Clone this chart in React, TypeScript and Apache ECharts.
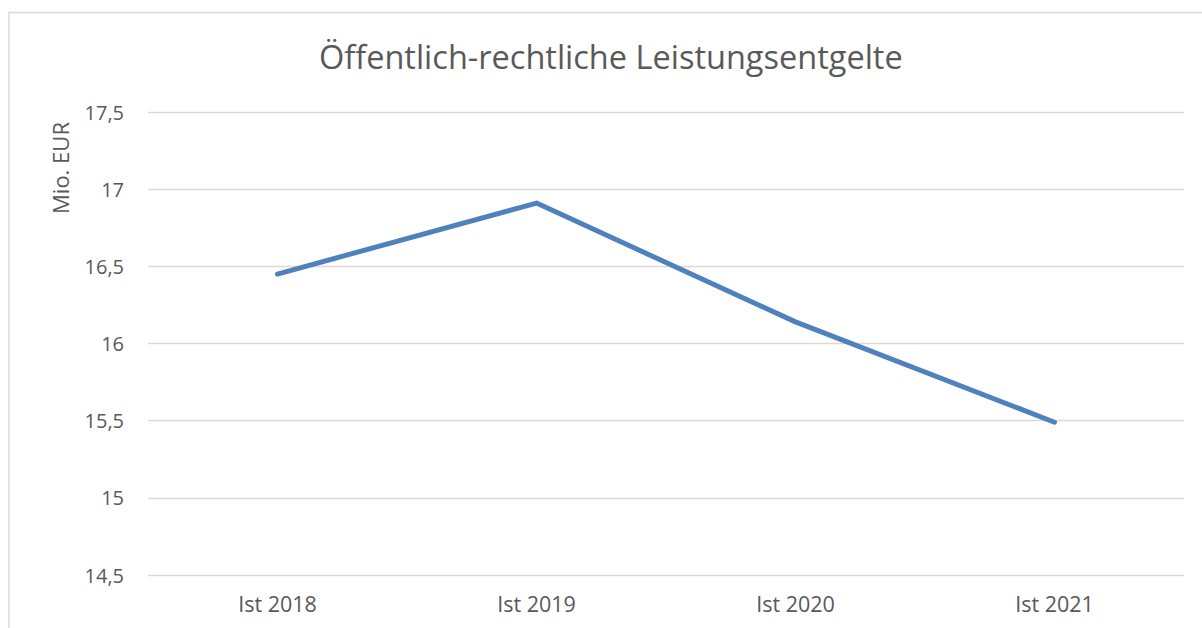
import React, { useEffect, useRef } from "react";
import * as echarts from "echarts";

const categories = ["Ist 2018", "Ist 2019", "Ist 2020", "Ist 2021"];
const values = [16.45, 16.91, 16.14, 15.49];
const titleText = "Öffentlich-rechtliche Leistungsentgelte";
const yAxisName = "Mio. EUR";

const FONT = "Open Sans";
const TXT = "#595959";

export default function App() {
  const ref = useRef<HTMLDivElement>(null);
  useEffect(() => {
    const chart = echarts.init(ref.current!, null, { renderer: "svg" });
    chart.setOption({
      animation: false,
      backgroundColor: "#ffffff",
      title: {
        text: titleText,
        left: 314,
        top: 35,
        textStyle: { fontFamily: FONT, fontSize: 32.5, fontWeight: "normal", color: TXT },
      },
      grid: { left: 148, right: 18, top: 112, bottom: 53 },
      xAxis: {
        type: "category",
        data: categories,
        boundaryGap: true,
        axisLine: { show: false },
        axisTick: { show: false },
        axisLabel: { fontFamily: FONT, fontSize: 21.5, color: TXT, margin: 17 },
      },
      yAxis: {
        type: "value",
        min: 14.5,
        max: 17.5,
        interval: 0.5,
        axisLine: { show: false },
        axisTick: { show: false },
        splitLine: { lineStyle: { color: "#d9d9d9", width: 1.3 } },
        axisLabel: {
          fontFamily: FONT,
          fontSize: 20,
          color: TXT,
          margin: 24,
          formatter: (v: number) => String(v).replace(".", ","),
        },
      },
      series: [
        {
          type: "line",
          data: values,
          symbol: "none",
          lineStyle: { color: "#4F81BD", width: 5, cap: "round", join: "round" },
        },
      ],
      graphic: [
        {
          type: "rect",
          shape: { x: 9, y: 12.5, width: 1200, height: 700 },
          style: { fill: "none", stroke: "#d9d9d9", lineWidth: 1.5 },
          silent: true,
        },
        {
          type: "text",
          x: 60,
          y: 168,
          rotation: Math.PI / 2,
          style: {
            text: yAxisName,
            font: "22px 'Open Sans'",
            fill: TXT,
            align: "center",
            verticalAlign: "middle",
          },
        },
      ],
    });
    return () => chart.dispose();
  }, []);
  return (
    <div
      ref={ref}
      style={{ position: "absolute", left: 0, top: 0, width: 1202, height: 628 }}
    />
  );
}
